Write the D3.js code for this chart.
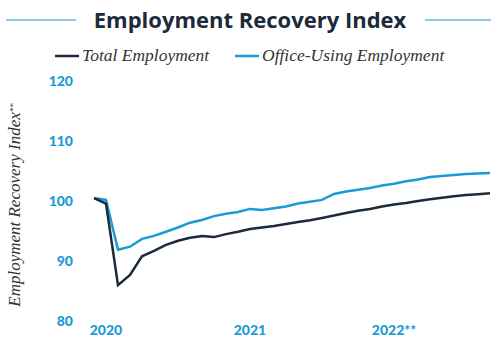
<!doctype html>
<html lang="en">
<head>
  <meta charset="utf-8">
  <title>Employment Recovery Index</title>
  <script src="https://d3js.org/d3.v7.min.js"></script>
  <style>
    body { margin: 0; background: #fff; }
    svg { display: block; }
  </style>
</head>
<body>
<script>
// monthly readings, Jan 2020 onward
var totalEmployment = [100.4, 99.5, 85.9, 87.6, 90.7, 91.6, 92.6, 93.3, 93.8, 94.1,
  93.9, 94.4, 94.8, 95.25, 95.5, 95.75, 96.1, 96.4, 96.7, 97.1,
  97.5, 97.9, 98.3, 98.6, 99.0, 99.35, 99.6, 99.9, 100.2, 100.45,
  100.7, 100.9, 101.05, 101.2];
var officeEmployment = [100.4, 100.1, 91.8, 92.3, 93.6, 94.1, 94.8, 95.5, 96.3, 96.75,
  97.4, 97.8, 98.1, 98.6, 98.4, 98.7, 99.0, 99.5, 99.8, 100.1,
  101.1, 101.5, 101.8, 102.1, 102.5, 102.8, 103.2, 103.5, 103.9, 104.1,
  104.25, 104.4, 104.5, 104.6];
var yTicks = [80, 90, 100, 110, 120];
var yearLabels = ["2020", "2021", "2022**"];
var yearIndex = [1, 13, 25];

var width = 491,
    height = 339;

var navy = '#1c2a3a',
    blue = '#1a9ad6';

var svg = d3.select('body')
  .append('svg')
  .attr('width', width)
  .attr('height', height);

// title with rules either side
svg.append('text')
  .attr('x', 250)
  .attr('y', 28)
  .attr('text-anchor', 'middle')
  .style('font-family', '"Open Sans", sans-serif')
  .style('font-weight', 700)
  .style('font-size', '22px')
  .style('fill', navy)
  .text('Employment Recovery Index');

svg.append('line').attr('x1', 6).attr('x2', 76).attr('y1', 20).attr('y2', 20)
  .attr('stroke', blue).attr('stroke-width', 1.2);
svg.append('line').attr('x1', 425).attr('x2', 491).attr('y1', 20).attr('y2', 20)
  .attr('stroke', blue).attr('stroke-width', 1.2);

// legend
var legend = [
  { name: 'Total Employment', color: navy, x: 55 },
  { name: 'Office-Using Employment', color: blue, x: 235 }
];
var lg = svg.selectAll('.legend')
  .data(legend)
  .enter()
  .append('g')
  .attr('transform', d => 'translate(' + d.x + ',56)');
lg.append('line')
  .attr('x1', 0).attr('x2', 24)
  .attr('stroke', d => d.color)
  .attr('stroke-width', 2.5);
lg.append('text')
  .attr('x', 27)
  .attr('y', 5)
  .style('font-family', '"Liberation Serif", serif')
  .style('font-style', 'italic')
  .style('font-size', '17.5px')
  .style('fill', '#333')
  .text(d => d.name);

// scales
var x = d3.scaleLinear()
  .domain([0, totalEmployment.length - 1])
  .range([94, 490]);

var y = d3.scaleLinear()
  .domain([80, 120])
  .range([320.5, 80.5]);

// y tick labels
svg.selectAll('.ytick')
  .data(yTicks)
  .enter()
  .append('text')
  .attr('x', 73)
  .attr('y', d => y(d))
  .attr('dy', '0.36em')
  .attr('text-anchor', 'end')
  .style('font-family', 'Lato, sans-serif')
  .style('font-weight', 900)
  .style('font-size', '14px')
  .style('fill', blue)
  .text(d => d);

// x year labels
svg.selectAll('.xtick')
  .data(yearLabels)
  .enter()
  .append('text')
  .attr('x', (d, i) => x(yearIndex[i]))
  .attr('y', 335)
  .attr('text-anchor', 'middle')
  .style('font-family', 'Lato, sans-serif')
  .style('font-weight', 900)
  .style('font-size', '14px')
  .style('fill', blue)
  .text(d => d);

// y axis title
var yt = svg.append('text')
  .attr('transform', 'translate(20,205) rotate(-90)')
  .attr('text-anchor', 'middle')
  .style('font-family', '"Liberation Serif", serif')
  .style('font-style', 'italic')
  .style('font-size', '17px')
  .style('fill', '#333');
yt.append('tspan').text('Employment Recovery Index');
yt.append('tspan').attr('dy', '-0.5em').style('font-size', '9px').text('**');

// lines
var line = d3.line()
  .x((d, i) => x(i))
  .y(d => y(d));

svg.append('path')
  .datum(officeEmployment)
  .attr('fill', 'none')
  .attr('stroke', blue)
  .attr('stroke-width', 2.5)
  .attr('d', line);

svg.append('path')
  .datum(totalEmployment)
  .attr('fill', 'none')
  .attr('stroke', navy)
  .attr('stroke-width', 2.5)
  .attr('d', line);
</script>
</body>
</html>
